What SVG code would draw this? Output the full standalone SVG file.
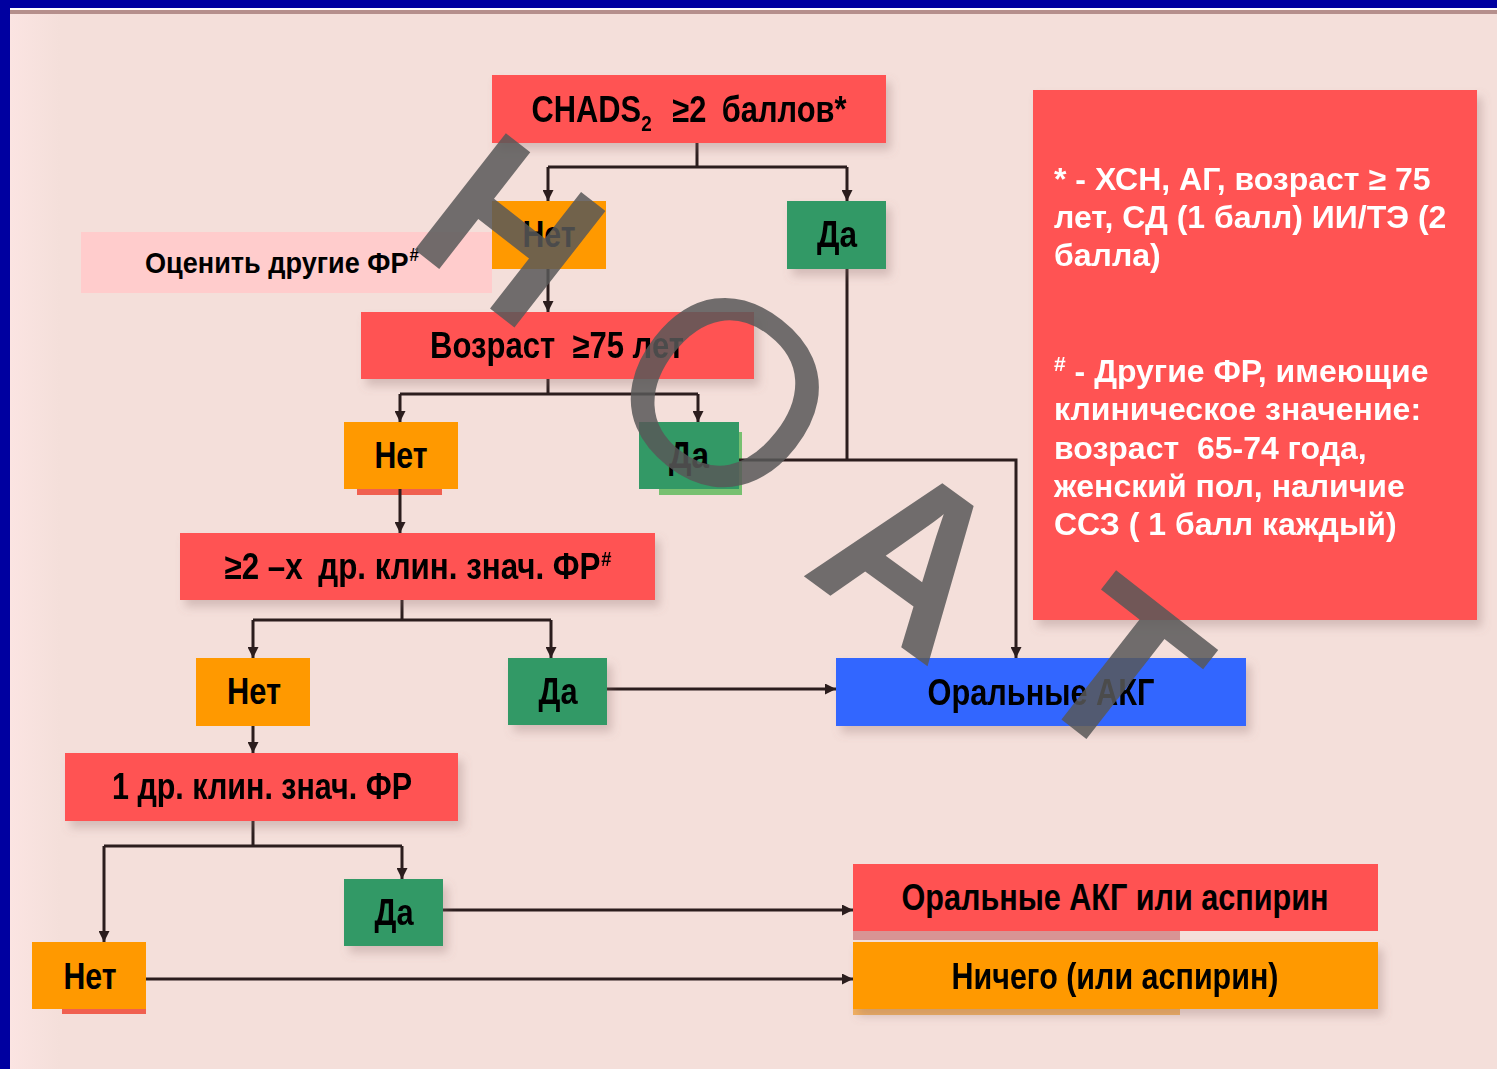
<svg xmlns="http://www.w3.org/2000/svg" width="1497" height="1069" viewBox="0 0 1497 1069">
  <defs>
    <style>
      .lbl { font-family: "Liberation Sans", Arial, sans-serif; font-weight: bold; fill: #000; text-anchor: middle; }
      .big { font-size: 36px; }
      .mid { font-size: 30px; }
      .note { font-family: "Liberation Sans", Arial, sans-serif; font-weight: bold; font-size: 32px; fill: #fff; }
      .red { fill: #FF5252; }
      .org { fill: #FF9900; }
      .grn { fill: #339966; }
      .blu { fill: #3366FF; }
      .pnk { fill: #FFCCCC; }
      .wire { fill: none; stroke: #2b1d1d; stroke-width: 3; }
      .wm { font-family: "Liberation Sans", Arial, sans-serif; font-weight: bold; fill: #585858; fill-opacity: 0.85; text-anchor: middle; }
    </style>
    <linearGradient id="edge" x1="0" y1="0" x2="1" y2="0">
      <stop offset="0" stop-color="#FBE4E2"/>
      <stop offset="1" stop-color="#F4DFDA"/>
    </linearGradient>
    <marker id="arr" viewBox="0 0 10 10" refX="10" refY="5" markerWidth="11" markerHeight="11" markerUnits="userSpaceOnUse" orient="auto">
      <path d="M0,0 L10,5 L0,10 z" fill="#2b1d1d"/>
    </marker>
    <filter id="shd" x="-10%" y="-20%" width="130%" height="160%">
      <feDropShadow dx="5" dy="7" stdDeviation="5" flood-color="#8a6a6a" flood-opacity="0.3"/>
    </filter>
  </defs>

  <!-- slide background and frame -->
  <rect x="0" y="0" width="1497" height="1069" fill="#F4DFDA"/>
  <rect x="10" y="10" width="50" height="1059" fill="url(#edge)"/>
  <rect x="10" y="10" width="1487" height="4" fill="#B58F8C"/>
  <rect x="10" y="8" width="1487" height="2" fill="#FFFFFF"/>
  <rect x="0" y="0" width="1497" height="8" fill="#0000A0"/>
  <rect x="0" y="0" width="10" height="1069" fill="#0000A0"/>

  <!-- residual strips under some boxes -->
  <rect x="357" y="487" width="85" height="8" fill="#F06050"/>
  <rect x="659" y="432" width="83" height="63" fill="#77C070"/>
  <rect x="62" y="1007" width="84" height="7" fill="#F06050"/>
  <rect x="853" y="929" width="327" height="11" fill="#D89494"/>
  <rect x="853" y="1007" width="327" height="8" fill="#F2B060"/>

  <!-- connectors -->
  <g id="connectors">
    <path class="wire" d="M697,143 V167 M548,167 H847"/>
    <path class="wire" d="M548,167 V201" marker-end="url(#arr)"/>
    <path class="wire" d="M847,167 V201" marker-end="url(#arr)"/>
    <path class="wire" d="M548,269 V312" marker-end="url(#arr)"/>
    <path class="wire" d="M548,379 V394 M400,394 H698"/>
    <path class="wire" d="M400,394 V422" marker-end="url(#arr)"/>
    <path class="wire" d="M698,394 V422" marker-end="url(#arr)"/>
    <path class="wire" d="M847,269 V460"/>
    <path class="wire" d="M739,460 H1016 V658" marker-end="url(#arr)"/>
    <path class="wire" d="M400,489 V533" marker-end="url(#arr)"/>
    <path class="wire" d="M402,600 V620 M253,620 H551"/>
    <path class="wire" d="M253,620 V658" marker-end="url(#arr)"/>
    <path class="wire" d="M551,620 V658" marker-end="url(#arr)"/>
    <path class="wire" d="M607,689 H836" stroke-width="2.5" marker-end="url(#arr)"/>
    <path class="wire" d="M253,726 V753" marker-end="url(#arr)"/>
    <path class="wire" d="M253,821 V846 M104,846 H402"/>
    <path class="wire" d="M104,846 V942" marker-end="url(#arr)"/>
    <path class="wire" d="M402,846 V879" marker-end="url(#arr)"/>
    <path class="wire" d="M443,910 H853" stroke-width="2.5" marker-end="url(#arr)"/>
    <path class="wire" d="M146,979 H853" marker-end="url(#arr)"/>
  </g>

  <!-- nodes -->
  <g id="chads" filter="url(#shd)">
    <rect class="red" x="492" y="75" width="394" height="68"/>
    <text class="lbl big" x="689" y="122" textLength="315" lengthAdjust="spacingAndGlyphs">CHADS<tspan font-size="22" dy="9">2</tspan><tspan dy="-9" dx="24">≥2</tspan><tspan dx="18">баллов*</tspan></text>
  </g>
  <g id="no1">
    <rect class="org" x="492" y="201" width="114" height="68"/>
    <text class="lbl big" x="549" y="247" textLength="53" lengthAdjust="spacingAndGlyphs">Нет</text>
  </g>
  <g id="yes1" filter="url(#shd)">
    <rect class="grn" x="787" y="201" width="99" height="68"/>
    <text class="lbl big" x="837" y="247" textLength="40" lengthAdjust="spacingAndGlyphs">Да</text>
  </g>
  <g id="other-rf">
    <rect class="pnk" x="81" y="232" width="411" height="61"/>
    <text class="lbl mid" x="282" y="273" textLength="274" lengthAdjust="spacingAndGlyphs">Оценить другие ФР<tspan font-size="19" dy="-12" dx="1">#</tspan></text>
  </g>
  <g id="age75" filter="url(#shd)">
    <rect class="red" x="361" y="312" width="393" height="67"/>
    <text class="lbl big" x="557" y="358" textLength="254" lengthAdjust="spacingAndGlyphs">Возраст <tspan dx="10">≥75 лет</tspan></text>
  </g>
  <g id="no2">
    <rect class="org" x="344" y="422" width="114" height="67"/>
    <text class="lbl big" x="401" y="468" textLength="53" lengthAdjust="spacingAndGlyphs">Нет</text>
  </g>
  <g id="yes2">
    <rect class="grn" x="639" y="422" width="100" height="67"/>
    <text class="lbl big" x="689" y="468" textLength="40" lengthAdjust="spacingAndGlyphs">Да</text>
  </g>
  <g id="two-rf" filter="url(#shd)">
    <rect class="red" x="180" y="533" width="475" height="67"/>
    <text class="lbl big" x="418" y="579" textLength="387" lengthAdjust="spacingAndGlyphs">≥2 –х <tspan dx="8">др. клин. знач. ФР</tspan><tspan font-size="21" dy="-13" dx="1">#</tspan></text>
  </g>
  <g id="no3">
    <rect class="org" x="196" y="658" width="114" height="68"/>
    <text class="lbl big" x="254" y="704" textLength="54" lengthAdjust="spacingAndGlyphs">Нет</text>
  </g>
  <g id="yes3" filter="url(#shd)">
    <rect class="grn" x="508" y="658" width="99" height="67"/>
    <text class="lbl big" x="558" y="704" textLength="39" lengthAdjust="spacingAndGlyphs">Да</text>
  </g>
  <g id="oac" filter="url(#shd)">
    <rect class="blu" x="836" y="658" width="410" height="68"/>
    <text class="lbl big" x="1041" y="705" textLength="227" lengthAdjust="spacingAndGlyphs">Оральные АКГ</text>
  </g>
  <g id="one-rf" filter="url(#shd)">
    <rect class="red" x="65" y="753" width="393" height="68"/>
    <text class="lbl big" x="262" y="799" textLength="300" lengthAdjust="spacingAndGlyphs">1 др. клин. знач. ФР</text>
  </g>
  <g id="yes4" filter="url(#shd)">
    <rect class="grn" x="344" y="879" width="99" height="67"/>
    <text class="lbl big" x="394" y="925" textLength="39" lengthAdjust="spacingAndGlyphs">Да</text>
  </g>
  <g id="no4">
    <rect class="org" x="32" y="942" width="114" height="67"/>
    <text class="lbl big" x="90" y="989" textLength="53" lengthAdjust="spacingAndGlyphs">Нет</text>
  </g>
  <g id="oac-or-aspirin">
    <rect class="red" x="853" y="864" width="525" height="67"/>
    <text class="lbl big" x="1115" y="910" textLength="427" lengthAdjust="spacingAndGlyphs">Оральные АКГ или аспирин</text>
  </g>
  <g id="nothing" filter="url(#shd)">
    <rect class="org" x="853" y="942" width="525" height="67"/>
    <text class="lbl big" x="1115" y="989" textLength="327" lengthAdjust="spacingAndGlyphs">Ничего (или аспирин)</text>
  </g>

  <!-- footnotes panel -->
  <g id="notes" filter="url(#shd)">
    <rect class="red" x="1033" y="90" width="444" height="530"/>
    <text class="note" x="1054" y="190">* - ХСН, АГ, возраст ≥ 75</text>
    <text class="note" x="1054" y="228">лет, СД (1 балл) ИИ/ТЭ (2</text>
    <text class="note" x="1054" y="266">балла)</text>
    <text class="note" x="1054" y="382"><tspan font-size="21" dy="-11">#</tspan><tspan dy="11"> - Другие ФР, имеющие</tspan></text>
    <text class="note" x="1054" y="420">клиническое значение:</text>
    <text class="note" x="1054" y="459" xml:space="preserve">возраст  65-74 года,</text>
    <text class="note" x="1054" y="497">женский пол, наличие</text>
    <text class="note" x="1054" y="535">ССЗ ( 1 балл каждый)</text>
  </g>

  <!-- diagonal watermark letters -->
  <g id="watermark">
    <text class="wm" style="font-size:215px" transform="translate(512,228) rotate(38)" y="77">Н</text>
    <text class="wm" style="font-size:262px;font-weight:normal" transform="translate(727,390) rotate(38)" y="94">О</text>
    <text class="wm" style="font-size:228px" transform="translate(914,555) rotate(36)" y="82">А</text>
    <text class="wm" style="font-size:220px" transform="translate(1122,668) rotate(38)" y="78">Т</text>
  </g>
</svg>
